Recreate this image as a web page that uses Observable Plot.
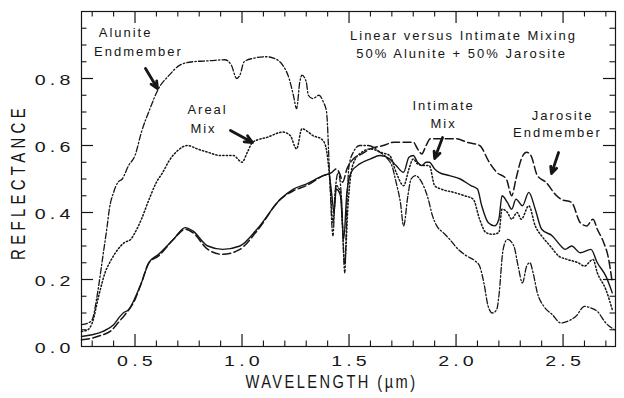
<!DOCTYPE html>
<html><head><meta charset="utf-8">
<script src="https://cdn.jsdelivr.net/npm/d3@7"></script>
<script src="https://cdn.jsdelivr.net/npm/@observablehq/plot@0.6"></script>
<style>html,body{margin:0;padding:0;background:#fff}</style>
</head><body><div id="chart"></div>
<script>
// ---- data: [wavelength (µm), reflectance] ----
const alunite = [[0.25,0.065],[0.28,0.07],[0.30,0.08],[0.32,0.14],[0.33,0.18],[0.35,0.27],[0.37,0.36],[0.38,0.41],[0.40,0.46],[0.42,0.49],[0.44,0.50],[0.47,0.54],[0.50,0.57],[0.53,0.64],[0.57,0.71],[0.61,0.77],[0.66,0.81],[0.71,0.84],[0.77,0.85],[0.85,0.853],[0.92,0.856],[0.95,0.84],[0.975,0.80],[0.99,0.81],[1.01,0.85],[1.05,0.86],[1.11,0.865],[1.15,0.86],[1.19,0.84],[1.22,0.80],[1.24,0.75],[1.255,0.71],[1.27,0.79],[1.28,0.81],[1.30,0.79],[1.31,0.75],[1.33,0.74],[1.36,0.75],[1.38,0.73],[1.395,0.70],[1.41,0.50],[1.425,0.33],[1.435,0.46],[1.45,0.52],[1.465,0.44],[1.48,0.22],[1.49,0.42],[1.50,0.54],[1.52,0.58],[1.55,0.60],[1.59,0.60],[1.645,0.58],[1.68,0.56],[1.70,0.54],[1.72,0.49],[1.74,0.43],[1.755,0.36],[1.775,0.45],[1.79,0.50],[1.81,0.51],[1.84,0.49],[1.87,0.44],[1.89,0.39],[1.91,0.36],[1.94,0.34],[1.97,0.32],[2.01,0.29],[2.05,0.27],[2.09,0.255],[2.11,0.24],[2.13,0.19],[2.15,0.12],[2.17,0.10],[2.19,0.11],[2.20,0.15],[2.22,0.29],[2.24,0.32],[2.27,0.30],[2.29,0.24],[2.31,0.19],[2.33,0.24],[2.345,0.25],[2.36,0.22],[2.38,0.16],[2.41,0.12],[2.45,0.095],[2.49,0.07],[2.52,0.075],[2.56,0.09],[2.60,0.12],[2.63,0.115],[2.66,0.105],[2.70,0.07],[2.74,0.05]];
const areal = [[0.25,0.045],[0.28,0.05],[0.30,0.07],[0.33,0.15],[0.36,0.22],[0.39,0.26],[0.42,0.29],[0.45,0.31],[0.48,0.32],[0.50,0.34],[0.53,0.38],[0.56,0.43],[0.60,0.49],[0.63,0.52],[0.66,0.555],[0.70,0.585],[0.745,0.60],[0.79,0.59],[0.84,0.58],[0.90,0.57],[0.96,0.57],[1.00,0.55],[1.025,0.58],[1.05,0.61],[1.12,0.625],[1.19,0.64],[1.225,0.63],[1.255,0.59],[1.28,0.65],[1.31,0.64],[1.33,0.63],[1.37,0.62],[1.39,0.60],[1.41,0.50],[1.425,0.37],[1.44,0.48],[1.46,0.46],[1.48,0.25],[1.495,0.42],[1.51,0.52],[1.53,0.56],[1.56,0.58],[1.60,0.59],[1.645,0.58],[1.69,0.57],[1.72,0.52],[1.755,0.48],[1.78,0.53],[1.80,0.56],[1.82,0.545],[1.85,0.54],[1.875,0.54],[1.90,0.48],[1.93,0.47],[1.99,0.46],[2.04,0.45],[2.08,0.44],[2.11,0.38],[2.14,0.34],[2.17,0.335],[2.20,0.34],[2.215,0.41],[2.24,0.40],[2.26,0.38],[2.285,0.40],[2.305,0.38],[2.34,0.42],[2.37,0.36],[2.40,0.33],[2.44,0.30],[2.48,0.27],[2.52,0.26],[2.57,0.25],[2.60,0.24],[2.64,0.26],[2.66,0.22],[2.70,0.17],[2.73,0.11]];
const intimate = [[0.25,0.03],[0.30,0.035],[0.35,0.045],[0.40,0.065],[0.43,0.09],[0.445,0.10],[0.47,0.11],[0.50,0.145],[0.53,0.19],[0.565,0.25],[0.61,0.275],[0.68,0.32],[0.735,0.355],[0.77,0.345],[0.84,0.30],[0.91,0.29],[0.99,0.30],[1.07,0.35],[1.18,0.44],[1.24,0.47],[1.30,0.485],[1.38,0.51],[1.405,0.515],[1.42,0.45],[1.43,0.40],[1.44,0.47],[1.46,0.45],[1.475,0.32],[1.49,0.46],[1.51,0.52],[1.55,0.545],[1.60,0.56],[1.645,0.57],[1.69,0.56],[1.72,0.54],[1.755,0.52],[1.78,0.565],[1.80,0.57],[1.82,0.55],[1.84,0.54],[1.86,0.55],[1.875,0.55],[1.90,0.53],[1.92,0.52],[1.97,0.51],[2.02,0.50],[2.07,0.48],[2.10,0.47],[2.12,0.42],[2.15,0.37],[2.18,0.36],[2.20,0.38],[2.215,0.45],[2.24,0.43],[2.26,0.41],[2.28,0.44],[2.31,0.42],[2.34,0.46],[2.37,0.41],[2.40,0.35],[2.45,0.33],[2.49,0.30],[2.51,0.29],[2.54,0.30],[2.58,0.28],[2.63,0.29],[2.66,0.25],[2.70,0.21],[2.73,0.16]];
const jarosite = [[0.25,0.02],[0.30,0.025],[0.34,0.033],[0.39,0.048],[0.42,0.07],[0.44,0.085],[0.46,0.10],[0.50,0.14],[0.53,0.19],[0.565,0.25],[0.61,0.27],[0.68,0.32],[0.735,0.35],[0.77,0.34],[0.84,0.29],[0.91,0.275],[0.99,0.29],[1.07,0.345],[1.18,0.44],[1.24,0.465],[1.30,0.48],[1.38,0.51],[1.42,0.52],[1.44,0.53],[1.46,0.51],[1.47,0.49],[1.49,0.53],[1.52,0.56],[1.56,0.575],[1.60,0.59],[1.66,0.60],[1.71,0.61],[1.76,0.61],[1.80,0.61],[1.82,0.59],[1.84,0.575],[1.86,0.60],[1.88,0.62],[1.94,0.62],[2.00,0.62],[2.05,0.61],[2.11,0.60],[2.155,0.55],[2.19,0.52],[2.235,0.50],[2.26,0.45],[2.28,0.50],[2.305,0.56],[2.33,0.58],[2.35,0.57],[2.38,0.51],[2.42,0.49],[2.47,0.45],[2.49,0.44],[2.54,0.43],[2.58,0.37],[2.61,0.36],[2.64,0.38],[2.66,0.35],[2.69,0.31],[2.71,0.27],[2.73,0.19]];

// ---- axes ----
const xLabels = [0.5, 1.0, 1.5, 2.0, 2.5];
const xMinor = [0.3,0.4,0.6,0.7,0.8,0.9,1.1,1.2,1.3,1.4,1.6,1.7,1.8,1.9,2.1,2.2,2.3,2.4,2.6,2.7];
const yLabels = [0.0, 0.2, 0.4, 0.6, 0.8];
const yMajor = [0.2, 0.4, 0.6, 0.8];
const yMinor = [0.05,0.1,0.15,0.25,0.3,0.35,0.45,0.5,0.55,0.65,0.7,0.75,0.85,0.9,0.95];
const xTitle = "WAVELENGTH (\u00b5m)";
const yTitle = "REFLECTANCE";

// ---- annotations ----
const notes = [
  {t:"Alunite", x:0.456, y:0.936},
  {t:"Endmember", x:0.516, y:0.881},
  {t:"Linear versus Intimate Mixing", x:2.035, y:0.928},
  {t:"50% Alunite + 50% Jarosite", x:2.026, y:0.875},
  {t:"Areal", x:0.839, y:0.707},
  {t:"Mix", x:0.820, y:0.649},
  {t:"Intimate", x:1.942, y:0.719},
  {t:"Mix", x:1.942, y:0.664},
  {t:"Jarosite", x:2.498, y:0.688},
  {t:"Endmember", x:2.474, y:0.637}
];
const arrows = [
  {x1:0.549, y1:0.830, x2:0.605, y2:0.770},
  {x1:0.946, y1:0.645, x2:1.049, y2:0.609},
  {x1:1.937, y1:0.624, x2:1.900, y2:0.561},
  {x1:2.479, y1:0.579, x2:2.446, y2:0.516}
];

// ---- layout ----
const W = 624, H = 398, mT = 11, mB = 52, mL = 81, mR = 9;
const xDom = [0.25, 2.745], yDom = [0, 1];
const pxX = (W - mL - mR) / (xDom[1] - xDom[0]);
const pxY = (H - mT - mB) / (yDom[1] - yDom[0]);
const ink = "#161616";
const big = 12, small = 5.5;

const lineOpts = (w, dash) => ({x: d => d[0], y: d => d[1], stroke: ink, strokeWidth: w, strokeDasharray: dash, curve: "monotone-x"});

const plot = Plot.plot({
  width: W, height: H,
  marginTop: mT, marginBottom: mB, marginLeft: mL, marginRight: mR,
  x: {domain: xDom},
  y: {domain: yDom},
  style: {fontFamily: "'Liberation Sans', Arial, sans-serif", background: "#fff", color: ink},
  marks: [
    Plot.frame({stroke: ink, strokeWidth: 1.2}),
    // inward ticks (bottom, top, left, right)
    Plot.ruleX(xLabels, {x: d => d, y1: yDom[0], y2: yDom[0] + big / pxY, stroke: ink, strokeWidth: 1.2}),
    Plot.ruleX(xMinor, {x: d => d, y1: yDom[0], y2: yDom[0] + small / pxY, stroke: ink, strokeWidth: 1.1}),
    Plot.ruleX(xLabels, {x: d => d, y1: yDom[1], y2: yDom[1] - big / pxY, stroke: ink, strokeWidth: 1.2}),
    Plot.ruleX(xMinor, {x: d => d, y1: yDom[1], y2: yDom[1] - small / pxY, stroke: ink, strokeWidth: 1.1}),
    Plot.ruleY(yMajor, {y: d => d, x1: xDom[0], x2: xDom[0] + big / pxX, stroke: ink, strokeWidth: 1.2}),
    Plot.ruleY(yMinor, {y: d => d, x1: xDom[0], x2: xDom[0] + small / pxX, stroke: ink, strokeWidth: 1.1}),
    Plot.ruleY(yMajor, {y: d => d, x1: xDom[1], x2: xDom[1] - big / pxX, stroke: ink, strokeWidth: 1.2}),
    Plot.ruleY(yMinor, {y: d => d, x1: xDom[1], x2: xDom[1] - small / pxX, stroke: ink, strokeWidth: 1.1}),
    Plot.axisX(xLabels, {tickSize: 0, tickPadding: 10, tickFormat: d => d.toFixed(1), label: null, fontSize: 14, fill: ink, dx: 2}),
    Plot.axisY(yLabels, {tickSize: 0, tickPadding: 7, tickFormat: d => d.toFixed(1), label: null, fontSize: 14, fill: ink, dy: 2.5}),
    // curves
    Plot.line(jarosite, lineOpts(1.5, "8,3.5")),
    Plot.line(intimate, lineOpts(1.4, null)),
    Plot.line(areal, lineOpts(1.5, "1.3,2.2")),
    Plot.line(alunite, lineOpts(1.3, "6,2.2,1.4,2.2")),
    // annotations
    Plot.arrow(arrows, {x1: "x1", y1: "y1", x2: "x2", y2: "y2", stroke: ink, strokeWidth: 2.8, headLength: 9, headAngle: 50}),
    Plot.text(notes, {x: "x", y: "y", text: "t", fontSize: 13, fill: ink}),
    Plot.text([xTitle], {frameAnchor: "bottom", textAnchor: "middle", lineAnchor: "middle", dx: -17, dy: 35, fontSize: 19, fill: ink}),
    Plot.text([yTitle], {frameAnchor: "left", textAnchor: "middle", lineAnchor: "middle", rotate: -90, dx: -62.75, dy: 3, fontSize: 20, fill: ink})
  ]
});

// typographic tuning: letter spacing and horizontal scaling to mimic the plotter lettering
d3.select(plot).selectAll("text").each(function () {
  const t = this.textContent;
  let s = 2, k = 1;
  if (/^\d\.\d$/.test(t)) { s = 3; k = 1.4; }
  else if (t === xTitle) { s = 3.2; k = 0.77; }
  else if (t === yTitle) { s = 5.7; k = 0.75; }
  this.setAttribute("letter-spacing", s);
  if (k !== 1) {
    const tr = this.getAttribute("transform") || "";
    this.setAttribute("transform", tr + ` scale(${k},1)`);
  }
});

document.getElementById("chart").appendChild(plot);
</script>
</body></html>
